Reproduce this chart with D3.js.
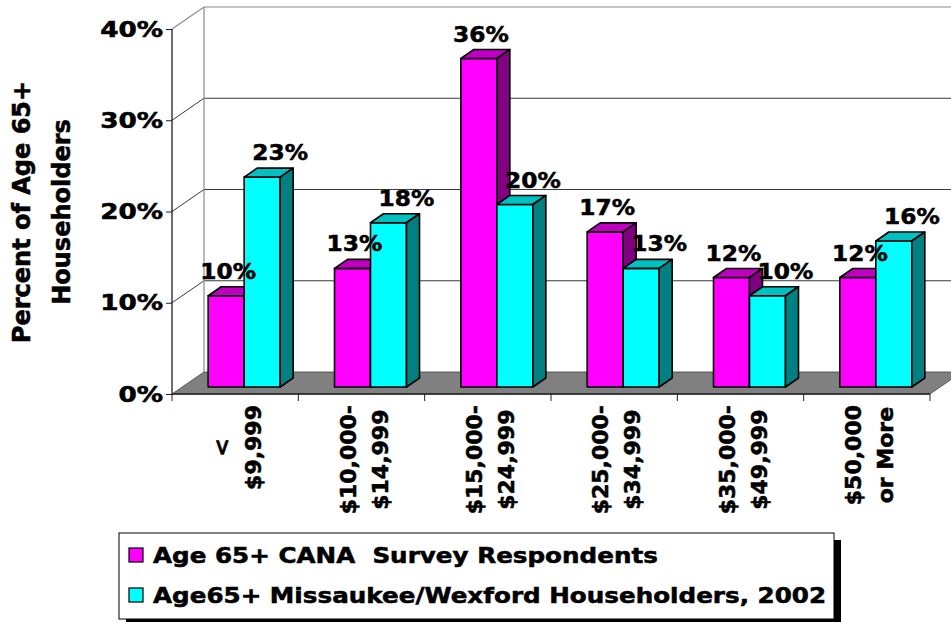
<!DOCTYPE html>
<html>
<head>
<meta charset="utf-8">
<script src="https://cdn.jsdelivr.net/npm/d3@7"></script>
<style>
  html, body { margin: 0; padding: 0; background: #fff; }
  svg { display: block; font-family: "DejaVu Sans", Verdana, sans-serif; font-weight: bold; }
  svg text { stroke: #000; stroke-width: 0.55px; }
  .pre { white-space: pre; }
</style>
</head>
<body>
<svg id="chart" width="951" height="622"></svg>
<script>
// Income brackets (two lines each) and the two surveyed populations
const categories = [
  ["<", "$9,999"],
  ["$10,000-", "$14,999"],
  ["$15,000-", "$24,999"],
  ["$25,000-", "$34,999"],
  ["$35,000-", "$49,999"],
  ["$50,000", "or More"]
];
const seriesNames = [
  "Age 65+ CANA  Survey Respondents",
  "Age65+ Missaukee/Wexford Householders, 2002"
];
const canaValues = [10, 13, 36, 17, 12, 12];
const countyValues = [23, 18, 20, 13, 10, 16];
const yTicks = [0, 10, 20, 30, 40];
const yTickLabels = ["0%", "10%", "20%", "30%", "40%"];
const yTitle = ["Percent of Age 65+", "Householders"];

const seriesValues = [canaValues, countyValues];
const seriesColors = [
  { front: "#FF00FF", top: "#C000C0", side: "#800080" },
  { front: "#00FFFF", top: "#00C0C0", side: "#008080" }
];

const svg = d3.select("#chart");

// Geometry of the oblique 3-D box
const plot = { left: 172, right: 930, top: 29, bottom: 394 };
const wall = { dx: 32, dy: -22 };      // offset from front plane to back wall
const face = { dx: 9, dy: -7 };        // plane where bar fronts stand
const depth = { dx: 13, dy: -9 };      // thickness of each bar
const groupWidth = 72;

const x = d3.scaleBand().domain(d3.range(categories.length)).range([plot.left, plot.right]);
const xs = d3.scaleBand().domain([0, 1]).range([0, groupWidth]);
const y = d3.scaleLinear().domain([0, 40]).range([plot.bottom, plot.top]);

const gWalls = svg.append("g");

// Floor
const floorPts = [
  [plot.left, y(0)], [plot.right, y(0)],
  [plot.right + wall.dx, y(0) + wall.dy], [plot.left + wall.dx, y(0) + wall.dy]
];
gWalls.append("polygon")
  .attr("points", floorPts.map(p => p.join(",")).join(" "))
  .attr("fill", "#808080")
  .attr("stroke", "#404040")
  .attr("stroke-width", 0.8);

// Gridlines across side wall and back wall
yTicks.forEach(v => {
  if (v === 0) return;
  const isTop = v === 40;
  gWalls.append("polyline")
    .attr("points", [
      [plot.left, y(v)],
      [plot.left + wall.dx, y(v) + wall.dy],
      [plot.right + wall.dx, y(v) + wall.dy]
    ].map(p => p.join(",")).join(" "))
    .attr("fill", "none")
    .attr("stroke", isTop ? "#8a8a8a" : "#3a3a3a")
    .attr("stroke-width", isTop ? 1.2 : 1);
});

// Back corner edge
gWalls.append("line")
  .attr("x1", plot.left + wall.dx).attr("x2", plot.left + wall.dx)
  .attr("y1", y(0) + wall.dy).attr("y2", y(40) + wall.dy)
  .attr("stroke", "#8a8a8a").attr("stroke-width", 1.2);

// Value axis with ticks
const yAxis = svg.append("g")
  .attr("transform", `translate(${plot.left},0)`)
  .call(d3.axisLeft(y).tickValues(yTicks).tickSize(6).tickFormat(""));
yAxis.select(".domain").attr("stroke", "#202020").attr("stroke-width", 1.3)
  .attr("d", `M0,${y(40)}V${y(0)}`);
yAxis.selectAll(".tick line").attr("stroke", "#202020");

yTicks.forEach((v, i) => {
  svg.append("text")
    .attr("transform", `translate(163,${y(v)}) scale(1.25,1)`)
    .attr("text-anchor", "end")
    .attr("dy", "0.36em")
    .attr("font-size", 21)
    .attr("fill", "#000")
    .text(yTickLabels[i]);
});

// Category axis line and boundary ticks
svg.append("line")
  .attr("x1", plot.left).attr("x2", plot.right)
  .attr("y1", y(0)).attr("y2", y(0))
  .attr("stroke", "#202020").attr("stroke-width", 1.3);
const bounds = d3.range(categories.length).map(i => x(i)).concat([plot.right]);
svg.selectAll(".xtick").data(bounds).join("line")
  .attr("class", "xtick")
  .attr("x1", d => d).attr("x2", d => d)
  .attr("y1", y(0)).attr("y2", y(0) + 7)
  .attr("stroke", "#202020").attr("stroke-width", 1);

// Bars
const gBars = svg.append("g");
const gLabels = svg.append("g");
const labelShift = [2, 18];

categories.forEach((cat, i) => {
  seriesValues.forEach((vals, s) => {
    const v = vals[i];
    const c = seriesColors[s];
    const w = xs.bandwidth();
    const fx = x(i) + (x.bandwidth() - groupWidth) / 2 + xs(s) + face.dx;
    const yTop = y(v) + face.dy;
    const yBot = y(0) + face.dy;
    const g = gBars.append("g")
      .attr("stroke", "#000").attr("stroke-width", 1.6).attr("stroke-linejoin", "round");
    g.append("rect")
      .attr("x", fx).attr("y", yTop).attr("width", w).attr("height", yBot - yTop)
      .attr("fill", c.front);
    g.append("polygon")
      .attr("points", [
        [fx, yTop], [fx + w, yTop],
        [fx + w + depth.dx, yTop + depth.dy], [fx + depth.dx, yTop + depth.dy]
      ].map(p => p.join(",")).join(" "))
      .attr("fill", c.top);
    g.append("polygon")
      .attr("points", [
        [fx + w, yTop], [fx + w + depth.dx, yTop + depth.dy],
        [fx + w + depth.dx, yBot + depth.dy], [fx + w, yBot]
      ].map(p => p.join(",")).join(" "))
      .attr("fill", c.side);

    gLabels.append("text")
      .attr("transform", `translate(${fx + w / 2 + labelShift[s]},${yTop - 17}) scale(1.06,1)`)
      .attr("text-anchor", "middle")
      .attr("font-size", 22)
      .attr("fill", "#000")
      .text(v + "%");
  });
});

// Category labels, rotated, two lines each
categories.forEach((lines, i) => {
  const cx = x(i) + x.bandwidth() / 2;
  const g = svg.append("g");
  const texts = lines.map((t, k) =>
    g.append("text")
      .attr("font-size", 22)
      .attr("text-anchor", "middle")
      .attr("fill", "#000")
      .attr("y", k === 0 ? -6 : 26)
      .text(t)
  );
  const maxLen = d3.max(texts, t => t.node().getComputedTextLength());
  texts.forEach(t => t.attr("x", -maxLen / 2));
  g.attr("transform", `translate(${cx},405) rotate(-90)`);
});

// Value axis title
const gTitle = svg.append("g").attr("transform", "translate(0,212) rotate(-90)");
yTitle.forEach((t, k) => {
  gTitle.append("text")
    .attr("x", 0).attr("y", k === 0 ? 30 : 70)
    .attr("text-anchor", "middle")
    .attr("font-size", 24)
    .attr("fill", "#000")
    .text(t);
});

// Legend with drop shadow
const legend = { x: 119, y: 533, w: 715, h: 86, shadow: 7 };
svg.append("rect")
  .attr("x", legend.x + legend.shadow).attr("y", legend.y + legend.shadow)
  .attr("width", legend.w).attr("height", legend.h)
  .attr("fill", "#000");
svg.append("rect")
  .attr("x", legend.x).attr("y", legend.y)
  .attr("width", legend.w).attr("height", legend.h)
  .attr("fill", "#fff").attr("stroke", "#000").attr("stroke-width", 1);

seriesNames.forEach((name, s) => {
  const baseY = 563 + s * 40;
  svg.append("rect")
    .attr("x", 129).attr("y", baseY - 15)
    .attr("width", 14).attr("height", 14)
    .attr("fill", seriesColors[s].front)
    .attr("stroke", "#000").attr("stroke-width", 1.2);
  svg.append("text")
    .attr("class", "pre")
    .attr("transform", `translate(153,${baseY}) scale(1.12,1)`)
    .attr("font-size", 22)
    .attr("fill", "#000")
    .text(name);
});
</script>
</body>
</html>
